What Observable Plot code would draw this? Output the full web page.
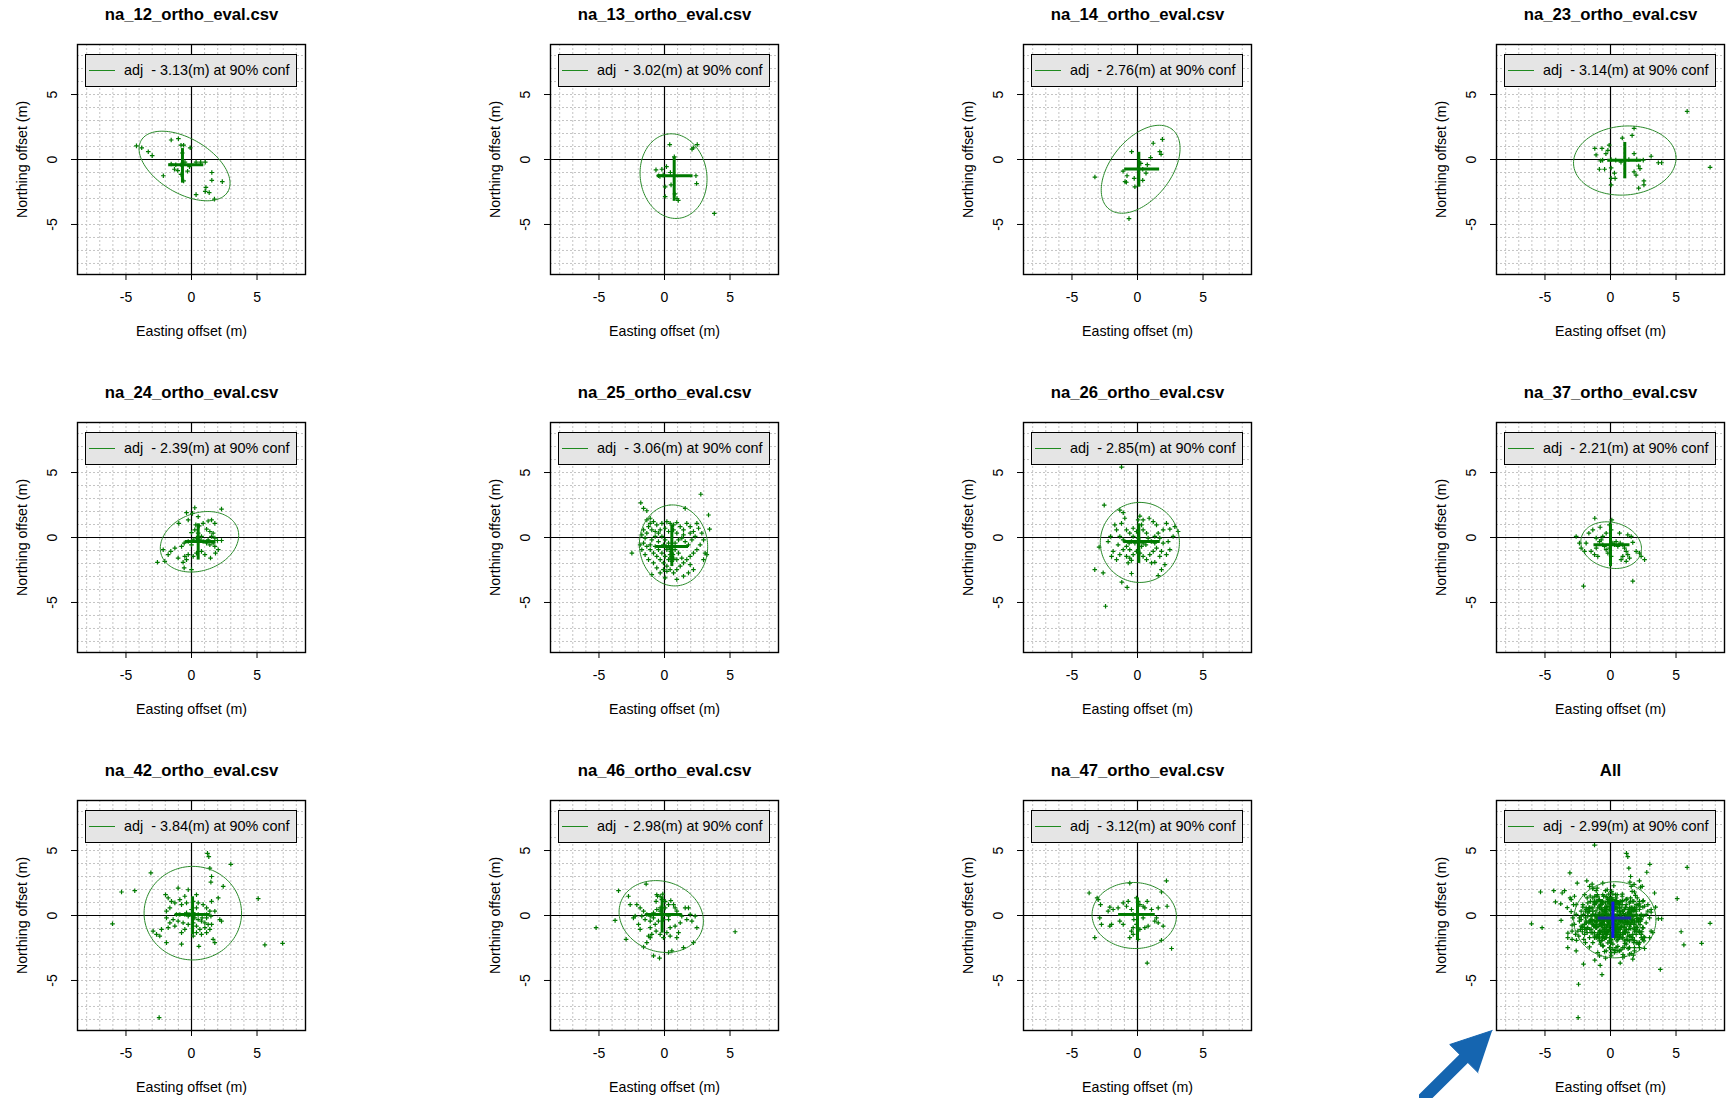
<!DOCTYPE html>
<html><head><meta charset="utf-8">
<script src="https://cdn.jsdelivr.net/npm/d3@7"></script>
<script src="https://cdn.jsdelivr.net/npm/@observablehq/plot@0.6"></script>
<style>
html,body{margin:0;padding:0;background:#fff;overflow:hidden;}
#root{position:relative;width:1729px;height:1098px;font-family:"Liberation Sans",Arial,sans-serif;}
.cell{position:absolute;}
.cell svg{display:block;}
.legend{position:absolute;box-sizing:border-box;border:1.5px solid #000;background:#e5e5e5;}
.legend .ln{position:absolute;left:3px;top:15px;width:26px;height:0;border-top:1.2px solid #1f8a1f;}
.legend .tx{position:absolute;left:38px;top:0;line-height:30px;font-size:14.4px;white-space:pre;color:#000;}
</style></head><body><div id="root"></div>
<script>
// ---------- data ----------
const titles = ["na_12_ortho_eval.csv","na_13_ortho_eval.csv","na_14_ortho_eval.csv","na_23_ortho_eval.csv",
  "na_24_ortho_eval.csv","na_25_ortho_eval.csv","na_26_ortho_eval.csv","na_37_ortho_eval.csv",
  "na_42_ortho_eval.csv","na_46_ortho_eval.csv","na_47_ortho_eval.csv","All"];
const confRadius = ["3.13","3.02","2.76","3.14","2.39","3.06","2.85","2.21","3.84","2.98","3.12","2.99"];
const xLabel = "Easting offset (m)";
const yLabel = "Northing offset (m)";
const xTicks = [-5, 0, 5];
const yTicks = [-5, 0, 5];
const gridLines = [-8,-7,-6,-5,-4,-3,-2,-1,0,1,2,3,4,5,6,7,8];

const pts12 = [[-4.2,1.05],[-3.8,0.9],[-3.3,0.6],[-3.0,0.3],[-1.55,1.5],[-1.0,1.6],[-0.8,1.1],[-0.6,1.1],[-0.1,0.9],[-1.55,-0.35],[-1.3,-0.75],[-1.05,-0.85],[-0.8,-1.15],[-2.15,-1.25],[-0.6,-1.65],[0.35,-0.2],[0.7,-0.2],[1.05,-0.2],[-0.15,-0.55],[1.55,-1.0],[2.35,-1.7],[1.55,-1.6],[1.1,-2.15],[1.05,-2.45],[1.35,-2.55],[0.35,-2.7],[1.75,-3.05],[-1.2,-0.4],[-0.8,-0.4],[-0.5,-0.2],[-0.3,-0.9],[-0.7,0.5]];
const pts13 = [[0.4,1.15],[2.5,1.15],[2.2,0.9],[2.1,0.8],[0.75,0.2],[-0.65,-0.8],[-0.2,-0.75],[0.15,-0.55],[-0.1,-1.2],[0.45,-1.0],[2.45,-1.85],[2.4,-1.25],[0.95,-3.0],[1.05,-3.15],[0.05,-2.85],[3.8,-4.15],[-0.35,-1.3],[-0.45,-1.25],[0.05,-2.1],[0.8,-2.65],[0.5,-1.95]];
const pts14 = [[1.2,1.25],[1.9,1.55],[-0.45,0.6],[1.7,0.6],[1.8,0.4],[1.0,0.15],[0.75,-0.4],[0.4,-0.75],[0.65,-1.05],[-0.8,-1.25],[-0.25,-1.45],[-0.95,-1.7],[-0.85,-1.75],[0.4,-1.6],[-0.2,-2.1],[-3.25,-1.35],[-0.65,-4.55],[-1.1,-0.9],[0.25,-0.3]];
const pts23 = [[5.85,3.7],[7.6,-0.6],[1.8,2.4],[1.65,1.85],[0.9,1.65],[-1.2,0.85],[-0.65,0.85],[-0.2,0.7],[-1.1,0.35],[-0.35,0.45],[-0.6,-0.05],[-0.75,-0.1],[0.05,0.0],[0.4,-0.05],[0.8,-0.2],[1.8,0.45],[2.5,-0.05],[3.1,0.25],[3.65,-0.25],[3.9,-0.25],[-0.85,-0.75],[-0.45,-0.75],[0.05,-0.65],[0.3,-1.05],[0.05,-1.45],[0.35,-1.45],[1.8,-0.95],[2.15,-0.5],[2.25,-0.7],[1.95,-1.2],[2.55,-1.65],[2.55,-1.95],[2.15,-2.2],[0.05,-1.95],[1.4,0.0],[2.0,0.0],[-0.1,1.1]];
const pts24 = [[0.25,2.29],[2.29,2.19],[-0.38,1.91],[0.08,1.86],[0.51,1.6],[0.33,0.97],[0.59,0.89],[0.89,1.09],[1.27,1.27],[1.53,1.35],[1.78,1.09],[-0.25,1.35],[-0.97,1.09],[1.15,0.64],[1.4,0.46],[1.65,0.33],[1.53,0.08],[1.78,-0.05],[1.98,-0.23],[1.65,-0.43],[1.4,-0.56],[1.78,-0.69],[2.29,-0.23],[2.04,-0.94],[1.83,-1.2],[1.45,-1.58],[1.02,-1.32],[0.76,-1.07],[0.38,-1.2],[0.13,-1.45],[-0.25,-1.32],[-0.51,-1.45],[-0.38,-1.7],[-0.64,-1.91],[-0.56,-2.34],[0,-2.47],[-1.02,-1.58],[-1.27,-0.81],[-1.58,-1.07],[-1.78,-1.32],[-2.16,-0.94],[-2.6,-1.91],[-2.04,-1.83],[-0.76,-0.69],[-0.56,-0.43],[-0.25,-0.31],[0,-0.56],[0.13,-0.18],[0.38,-0.05],[0.51,0.33],[0.76,0.08],[0.25,0.59],[0,0.38],[0.64,-0.18],[0.89,-0.31],[1.15,-0.43],[1.27,-0.18]];
const pts25 = [[2.77,3.33],[-1.81,2.67],[-1.6,2.24],[-1.35,2.06],[-2.49,-1.2],[3.36,1.73],[3.44,0.64],[3.23,-1.32],[3.1,-1.2],[1.58,2.24],[-1.35,1.35],[-1.09,1.48],[-0.84,1.22],[-1.22,0.84],[-1.6,0.59],[-1.73,0.2],[-1.35,0.33],[-0.97,0.59],[-0.59,0.97],[-0.2,1.09],[0.18,1.22],[0.43,1.09],[0.69,0.97],[0.94,1.15],[1.2,0.84],[1.45,0.59],[1.7,1.09],[1.96,0.84],[2.21,0.46],[2.6,0.71],[2.85,0.33],[2.98,-0.18],[2.72,-0.56],[2.47,-0.94],[2.21,-1.2],[1.96,-1.45],[1.7,-1.7],[1.45,-1.96],[1.2,-2.21],[0.94,-2.47],[0.69,-2.72],[0.43,-2.47],[0.18,-2.21],[-0.08,-1.96],[-0.33,-1.7],[-0.59,-1.45],[-0.84,-1.2],[-1.09,-0.94],[-1.35,-0.69],[-1.6,-0.43],[-1.86,-0.56],[-1.48,-1.32],[-1.22,-1.7],[-0.84,-1.96],[-0.59,-2.34],[-0.33,-2.72],[-0.97,-2.85],[0.05,-3.1],[0.94,-3.23],[1.45,-2.98],[1.83,-2.72],[1.32,-1.58],[1.07,-1.2],[0.81,-0.94],[0.56,-0.69],[0.31,-0.43],[0.05,-0.18],[-0.2,0.08],[-0.46,0.33],[-0.71,0.08],[-0.97,-0.18],[-1.09,-0.56],[-0.71,-0.69],[-0.46,-0.31],[-0.08,-0.56],[0.18,-0.94],[0.43,-1.32],[0.69,-1.58],[0.94,-1.7],[0.56,-1.83],[0.31,-1.7],[0.05,-1.45],[-0.2,-1.2],[-0.46,-0.94],[0.81,-0.43],[1.07,-0.18],[1.32,-0.05],[1.58,-0.31],[1.83,-0.56],[2.09,-0.18],[2.34,0.08],[1.96,0.33],[1.45,0.2],[0.94,0.33],[0.69,0.59],[0.31,0.46],[0.05,0.71],[-0.33,0.59],[-0.71,0.46],[0.48,-1.07],[0.64,-1.32],[0.43,-1.58],[0.38,-0.81],[0.13,-0.69],[2.47,1.09],[2.98,-1.7],[-1.09,1.09],[-1.48,-0.05],[-1.73,-0.94],[1.96,-2.09],[2.21,-2.47],[0.18,-2.6],[-0.08,-2.47],[0.56,-0.94],[0.56,-1.2],[0.56,-1.45],[0.64,-1.7]];
const pts26 = [[-1.22,5.42],[-2.54,2.49],[-2.44,-5.29],[-3.26,-2.47],[-2.62,-2.72],[-1.2,-3.44],[-0.79,-3.84],[-0.46,-2.77],[-2.93,-0.74],[3.1,0.46],[2.47,0.64],[2.85,0.84],[2.34,-0.31],[2.47,-0.94],[2.21,-1.32],[1.83,-2.47],[1.58,-2.93],[2.09,-2.09],[0.89,1.48],[1.2,1.22],[0.18,1.65],[0.05,1.35],[-1.35,2.11],[-1.09,1.91],[-1.22,1.09],[-1.6,0.59],[-2.06,0.08],[-2.24,-0.31],[-1.86,-1.07],[-1.98,-1.45],[-1.6,-1.7],[-1.35,-1.32],[-1.09,-0.94],[-0.84,-0.69],[-0.64,-0.43],[-0.46,-0.31],[-0.33,0.08],[-0.59,0.33],[-0.84,0.59],[-0.33,0.71],[-0.08,0.46],[0.31,0.97],[0.43,0.59],[0.69,0.33],[0.81,-0.05],[1.07,-0.31],[1.32,0.08],[1.58,0.33],[1.7,-0.05],[1.96,-0.43],[1.45,-0.81],[1.2,-1.07],[0.94,-1.32],[0.69,-1.7],[0.43,-1.45],[0.18,-1.2],[-0.08,-1.07],[-0.33,-1.32],[-0.59,-1.58],[-0.71,-1.96],[-0.46,-1.76],[1.07,-1.96],[1.32,-1.91],[1.7,-1.45],[0.64,-0.56],[0.31,-0.69],[-0.2,-0.43],[0.05,-0.05],[-1.09,-0.18],[-1.35,0.08],[-1.73,0.97],[-0.97,1.48],[0.43,1.35],[1.45,0.97],[1.96,0.59],[2.72,0.08],[2.21,1.09],[-0.59,-0.94],[-0.84,-1.45],[-1.48,-0.56],[0.18,-0.31],[0.43,-0.43],[1.32,-0.43],[1.83,-1.07]];
const pts37 = [[-1.2,1.48],[0.1,1.35],[-2.06,-3.74],[1.7,-3.36],[2.6,-1.7],[-2.62,0.08],[-2.24,-0.81],[-2.37,-0.43],[-1.98,-1.07],[-1.65,0.33],[-1.35,0.59],[-1.09,-0.05],[-0.84,-0.31],[-0.59,-0.56],[-0.71,-0.18],[-0.46,-0.69],[-0.33,-0.94],[-0.08,-0.81],[-0.2,-1.2],[0.05,-1.45],[0.18,-0.43],[0.31,-0.56],[0.43,-0.31],[0.56,-0.69],[0.74,-0.43],[0.94,-0.56],[1.07,-0.81],[1.2,-1.07],[1.32,-1.32],[1.45,-1.58],[0.94,-1.45],[0.81,-1.7],[1.2,-1.83],[1.7,-0.38],[1.96,-1.07],[2.21,-1.2],[2.34,-1.45],[1.58,0.08],[1.32,0.2],[0.69,0.33],[0.05,0.59],[-0.08,0.97],[-0.79,0.79],[-1.09,-0.81],[-1.48,-1.07],[-1.22,-1.32],[-0.97,-1.45],[-1.86,-0.43],[-0.59,0.08],[-0.33,0.33]];
const pts42 = [[1.22,4.78],[1.32,4.53],[3.0,3.94],[1.4,3.64],[-3.1,3.28],[-5.34,1.81],[-4.33,1.91],[5.09,1.3],[-6.03,-0.64],[5.6,-2.26],[6.95,-2.14],[-2.47,-7.86],[0.56,-2.37],[1.53,3.0],[1.48,2.57],[2.42,2.24],[-0.25,1.98],[0.38,1.6],[-0.51,1.48],[-1.98,1.6],[-1.78,1.35],[-0.89,1.22],[-1.27,0.97],[-1.65,0.59],[-1.91,0.33],[-0.76,0.84],[-0.38,0.97],[0.13,1.09],[0.51,0.97],[0.89,0.84],[1.15,0.59],[1.4,0.33],[1.48,-0.05],[1.15,-0.18],[0.81,-0.18],[0.51,0.08],[0.25,-0.18],[-0.25,-0.05],[-0.51,0.08],[-0.89,0.08],[-1.15,0.08],[-1.4,-0.31],[-1.91,-0.18],[-1.65,-0.56],[-1.78,-0.94],[-1.27,-0.81],[-1.02,-0.43],[-0.64,-0.56],[-0.25,-0.69],[0.13,-0.56],[0.38,-0.81],[0.64,-1.07],[1.02,-0.94],[1.4,-1.07],[1.53,-0.69],[1.15,-1.32],[0.76,-1.45],[0.38,-1.32],[0.13,-1.58],[-0.51,-1.07],[-0.76,-1.32],[-2.93,-1.2],[-2.42,-1.58],[-1.91,-2.09],[-0.76,-2.21],[1.65,-1.83],[1.78,-2.09],[2.16,-0.31],[2.29,-0.43],[1.78,0.33],[1.53,1.09],[2.04,1.35],[-1.02,2.11],[-1.53,1.09],[0.0,0.46],[0.38,0.59],[-2.29,-1.07],[-2.67,-1.45],[-0.13,0.08],[0.13,0.2],[0.25,0.08],[-0.38,0.2],[0.51,-0.31],[0.76,-0.43],[1.02,-0.56],[1.27,-0.69],[1.15,0.08]];
const pts46 = [[-5.22,-0.94],[5.39,-1.25],[-3.51,1.91],[-3.77,-0.38],[-2.93,-1.83],[-1.6,-2.42],[-0.84,-3.1],[-0.38,-3.28],[0.31,-2.85],[0.56,-2.72],[1.45,-2.47],[2.21,-2.09],[-1.4,2.42],[-2.75,1.48],[-2.62,0.84],[-2.11,0.84],[-1.86,0.59],[-1.6,0.33],[-1.35,0.08],[-1.09,-0.05],[-2.24,-0.05],[-2.37,-0.18],[-1.48,-0.31],[-1.09,-0.43],[-0.84,0.2],[-0.59,0.46],[-0.33,0.59],[-0.64,1.09],[-0.53,1.48],[-0.13,1.65],[0.05,1.09],[0.31,0.84],[0.48,1.15],[0.69,0.84],[0.81,0.59],[0.94,0.33],[1.32,-0.05],[1.58,0.59],[1.83,0.59],[1.96,0.08],[2.34,-0.05],[2.47,-0.94],[2.09,-0.43],[1.7,-0.31],[1.2,-0.56],[0.81,-0.81],[0.43,-0.94],[0.18,-1.32],[-0.08,-1.7],[-0.33,-1.45],[-0.64,-1.2],[-0.97,-1.45],[-1.22,-1.58],[-1.09,-0.94],[-0.71,-0.69],[-0.46,-0.43],[-0.08,-0.31],[0.31,-0.31],[0.43,-1.58],[0.94,-1.7],[1.07,-1.32],[-1.86,-1.07],[-1.98,-0.69],[0.31,-0.05],[-0.33,0.33],[0.05,0.59],[-1.09,-1.7],[-1.35,-2.09],[-0.59,1.6],[-0.33,1.48],[-0.2,1.22],[-0.84,-0.18],[-1.73,-0.05]];
const pts47 = [[2.21,2.67],[2.6,-2.54],[0.74,-3.66],[-3.69,1.73],[-3.26,-1.7],[-3.08,1.35],[-3.0,1.22],[-2.82,0.84],[1.83,1.81],[-0.59,2.49],[-2.11,0.64],[-2.24,0.33],[-1.86,0.46],[-1.48,0.59],[-1.09,0.97],[-0.84,0.71],[-0.71,1.09],[-0.46,0.46],[-0.08,1.35],[0.05,1.09],[0.18,0.84],[0.43,0.71],[0.56,0.59],[0.74,1.09],[1.07,0.46],[1.58,0.59],[2.26,0.71],[1.45,-0.18],[1.58,-0.56],[1.32,-0.43],[1.96,-0.81],[0.81,-0.81],[0.56,-0.94],[0.18,-1.07],[-0.08,-0.69],[-0.33,-0.94],[-0.46,-1.2],[-0.59,-1.7],[-0.33,-1.45],[0.05,-1.83],[-1.09,-0.69],[-1.35,-0.43],[-1.98,-0.69],[-2.11,-0.81],[-2.75,-0.69],[-2.88,-0.18],[1.83,-1.91],[-0.28,-0.31],[-0.33,0.08],[0.43,-0.18]];

// ellipse: centre x, centre y, semi-axis a, semi-axis b, angle of a (deg)
const ellipseParams = [[-0.53,-0.5,3.85,2.1,-31],[0.69,-1.28,3.27,2.54,98],[0.24,-0.75,3.9,2.3,52],[1.09,-0.08,3.92,2.65,5],
  [0.61,-0.33,3.08,2.21,20],[0.69,-0.61,3.12,2.6,95],[0.18,-0.38,3.08,3.02,90],[0.05,-0.59,2.35,1.75,-15],
  [0.1,0.18,3.72,3.6,0],[-0.25,-0.08,3.28,2.69,-20],[-0.25,0.0,3.22,2.54,-3],[0.33,-0.33,3.14,2.93,0]];
// cross: horizontal x1, x2, y ; vertical x, y1, y2
const crossParams = [[-1.78,0.9,-0.41,-0.69,0.88,-1.78],[-0.59,2.14,-1.25,0.74,0.2,-3.18],[-1.02,1.65,-0.74,0.1,0.59,-2.09],[-0.25,2.34,-0.05,1.09,1.35,-1.45],
  [-0.51,1.83,-0.31,0.51,1.09,-1.7],[-0.7,1.8,-0.7,0.56,1.0,-2.2],[-1.09,1.7,-0.31,0.1,1.09,-1.96],[-1.3,1.45,-0.56,0.0,1.09,-2.21],
  [-1.27,1.4,0.08,0.08,1.48,-1.45],[-1.48,1.32,0.08,-0.18,1.48,-1.32],[-1.48,1.32,0.08,0.0,1.35,-1.83],[-0.97,1.58,-0.2,0.18,1.07,-1.73]];
// annotation arrow in the "All" panel (data units)
const arrowShaft = [[-17.5,-17.3],[-11.19,-11.01]];
const arrowHead = [[-9.03,-8.85],[-12.27,-9.93],[-10.11,-12.09]];

// ---------- drawing ----------
const green = "#007a00";
const panelPts = [pts12, pts13, pts14, pts23, pts24, pts25, pts26, pts37, pts42, pts46, pts47];
const allPts = panelPts.flat();
const root = document.getElementById("root");

function drawPanel(i) {
  const isAll = i === 11;
  const pts = isAll ? allPts : panelPts[i];
  const [cx, cy, a, b, ang] = ellipseParams[i];
  const t = ang * Math.PI / 180;
  const ell = d3.range(0, 361, 3).map(k => {
    const u = k * Math.PI / 180, ex = a * Math.cos(u), ey = b * Math.sin(u);
    return [cx + ex * Math.cos(t) - ey * Math.sin(t), cy + ex * Math.sin(t) + ey * Math.cos(t)];
  });
  const cr = [crossParams[i]];
  const hColor = isAll ? "#1f2fa0" : green;
  const vColor = isAll ? "#1414e8" : green;
  const marks = [
    Plot.ruleX(gridLines, {stroke: "#c4c4c4", strokeDasharray: "2,2", strokeWidth: 1}),
    Plot.ruleY(gridLines, {stroke: "#c4c4c4", strokeDasharray: "2,2", strokeWidth: 1}),
    Plot.ruleX([0], {stroke: "#000", strokeWidth: 1.2}),
    Plot.ruleY([0], {stroke: "#000", strokeWidth: 1.2}),
    Plot.dot(pts, {x: d => d[0], y: d => d[1], symbol: "plus", r: 1.6, stroke: green, strokeWidth: 1.2}),
    Plot.line(ell, {x: d => d[0], y: d => d[1], stroke: "#2a8a2a", strokeWidth: 1}),
    Plot.link(cr, {x1: d => d[0], x2: d => d[1], y1: d => d[2], y2: d => d[2], stroke: hColor, strokeWidth: 3}),
    Plot.link(cr, {x1: d => d[3], x2: d => d[3], y1: d => d[4], y2: d => d[5], stroke: vColor, strokeWidth: 3}),
    Plot.frame({stroke: "#000", strokeWidth: 1.4}),
    Plot.axisX(xTicks, {tickSize: 6, tickPadding: 12, tickFormat: d => String(d), fontSize: 14, label: null}),
    Plot.axisY(yTicks, {tickSize: 6, tickFormat: () => "", label: null}),
    Plot.text(yTicks, {y: d => d, text: d => String(d), frameAnchor: "left", dx: -25, rotate: -90,
      textAnchor: "middle", lineAnchor: "middle", fontSize: 14}),
    Plot.text([titles[i]], {text: d => d, frameAnchor: "top", dy: -30, textAnchor: "middle", lineAnchor: "middle",
      fontWeight: "bold", fontSize: 16.7}),
    Plot.text([xLabel], {text: d => d, frameAnchor: "bottom", dy: 57, textAnchor: "middle", lineAnchor: "middle", fontSize: 14.2}),
    Plot.text([yLabel], {text: d => d, frameAnchor: "left", dx: -55, rotate: -90, textAnchor: "middle", lineAnchor: "middle", fontSize: 14.2})
  ];
  if (isAll) {
    marks.push(Plot.line(arrowShaft, {x: d => d[0], y: d => d[1], stroke: "#1565b0", strokeWidth: 12}));
    marks.push(Plot.line(arrowHead, {x: d => d[0], y: d => d[1], fill: "#1565b0", stroke: "#1565b0", strokeWidth: 1, strokeLinejoin: "miter"}));
  }
  const svg = Plot.plot({
    width: 310, height: 378,
    marginLeft: 77, marginRight: 5, marginTop: 44, marginBottom: 104,
    x: {domain: [-8.7, 8.7]},
    y: {domain: [-8.85, 8.85]},
    style: {fontFamily: "'Liberation Sans', Arial, sans-serif", fontSize: "14px", background: "transparent", color: "#000", overflow: "hidden"},
    marks
  });
  const col = i % 4, row = Math.floor(i / 4);
  const cell = document.createElement("div");
  cell.className = "cell";
  cell.style.left = (473 * col) + "px";
  cell.style.top = (378 * row) + "px";
  cell.appendChild(svg);
  const lg = document.createElement("div");
  lg.className = "legend";
  lg.style.left = "85px"; lg.style.top = "54px"; lg.style.width = "212px"; lg.style.height = "33px";
  const ln = document.createElement("span"); ln.className = "ln";
  const tx = document.createElement("span"); tx.className = "tx";
  tx.textContent = "adj  - " + confRadius[i] + "(m) at 90% conf";
  lg.appendChild(ln); lg.appendChild(tx);
  cell.appendChild(lg);
  root.appendChild(cell);
}
for (let i = 0; i < 12; i++) drawPanel(i);
</script></body></html>
